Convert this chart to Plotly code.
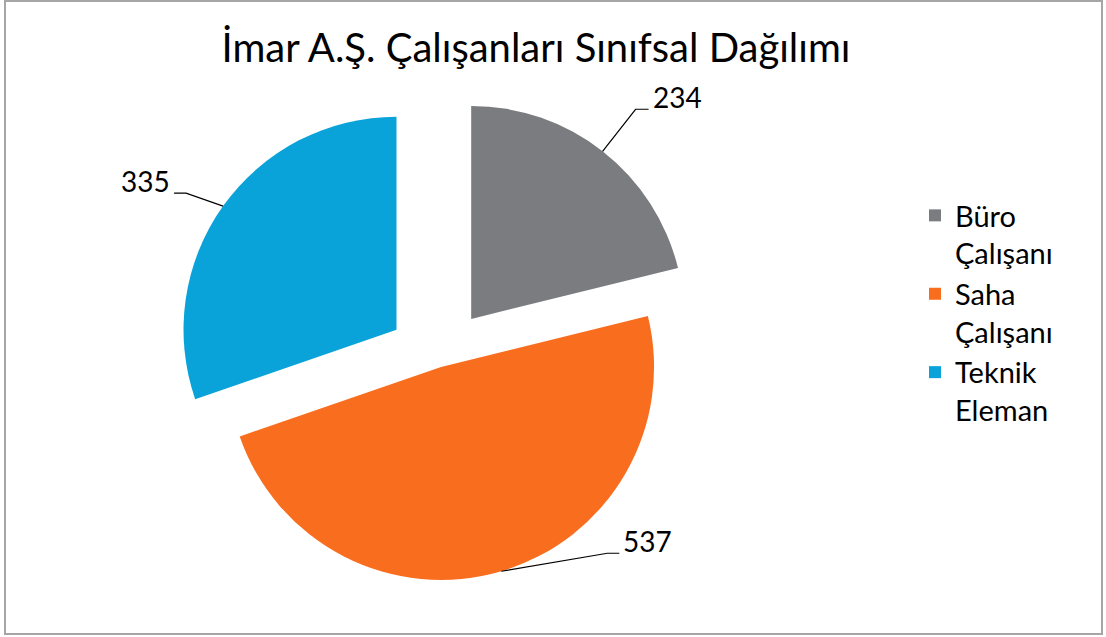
import math
import plotly.graph_objects as go

# ---- data ----
labels = ["Büro<br>Çalışanı", "Saha<br>Çalışanı", "Teknik<br>Eleman"]
values = [234, 537, 335]
colors = ["#7B7C80", "#F96E1E", "#0AA3D9"]
pulls = [0.245, 0.034, 0.245]
title_text = "İmar A.Ş. Çalışanları Sınıfsal Dağılımı"

# ---- layout geometry (pixels) ----
W, H = 1106, 637
cx, cy = 439, 360          # pie centre
r = 213                    # pie radius
half = r * (1 + max(pulls))
dom_x = [(cx - half) / W, (cx + half) / W]
dom_y = [1 - (cy + half) / H, 1 - (cy - half) / H]

# label leader offsets (elbow relative to arc point) and tail length
elbow_off = [(33, -42), (106, -18), (-37, -13)]
tail = [13, 12, -12]

FONT = "Lato"

fig = go.Figure()
fig.add_trace(go.Pie(
    labels=labels, values=values, sort=False, direction="clockwise", rotation=0,
    pull=pulls, textinfo="none", hoverinfo="label+value",
    marker=dict(colors=colors, line=dict(width=0)),
    domain=dict(x=dom_x, y=dom_y),
))

def px(x, y):
    return x / W, 1 - y / H

shapes = []
annotations = []
total = sum(values)
start = 0.0
for i, v in enumerate(values):
    mid = (start + v / 2) / total * 2 * math.pi
    start += v
    dx, dy = math.sin(mid), -math.cos(mid)
    ax_ = cx + pulls[i] * r * dx      # slice apex
    ay_ = cy + pulls[i] * r * dy
    p0 = (ax_ + r * dx, ay_ + r * dy)  # point on arc
    p1 = (p0[0] + elbow_off[i][0], p0[1] + elbow_off[i][1])
    p2 = (p1[0] + tail[i], p1[1])
    a, b, c = px(*p0), px(*p1), px(*p2)
    shapes.append(dict(type="path", xref="paper", yref="paper",
                       path=f"M{a[0]},{a[1]} L{b[0]},{b[1]} L{c[0]},{c[1]}",
                       line=dict(color="#000000", width=1.2)))
    tx = p2[0] + (2 if tail[i] > 0 else -2)
    t = px(tx, p2[1] - 12)
    annotations.append(dict(x=t[0], y=t[1], xref="paper", yref="paper",
                            text=str(v), showarrow=False,
                            xanchor="left" if tail[i] > 0 else "right",
                            yanchor="middle",
                            font=dict(size=28, color="#000000", family=FONT)))

# outer chart border
shapes.append(dict(type="rect", xref="paper", yref="paper",
                   x0=5 / W, x1=1102 / W, y0=1 - 634 / H, y1=1 - 1 / H,
                   line=dict(color="#A6A6A6", width=2)))

fig.update_layout(
    width=W, height=H,
    margin=dict(l=0, r=0, t=0, b=0),
    paper_bgcolor="white", plot_bgcolor="white",
    title=dict(text=title_text, x=536 / W, xanchor="center", y=1 - 48 / H,
               yanchor="middle", font=dict(size=40, color="#000000", family=FONT)),
    legend=dict(x=915 / W, xanchor="left", y=1 - 190 / H, yanchor="top",
                valign="top",
                font=dict(size=29, color="#000000", family=FONT),
                bgcolor="rgba(0,0,0,0)"),
    shapes=shapes, annotations=annotations,
)

fig.write_html("out.html", config={"displayModeBar": False},
               post_script="document.body.style.margin='0';")
